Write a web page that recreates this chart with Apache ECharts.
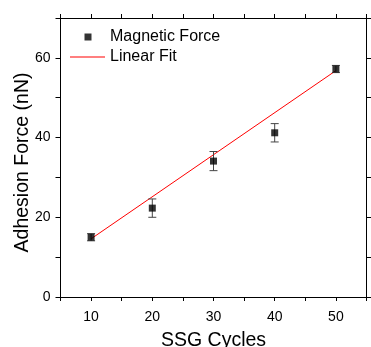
<!DOCTYPE html>
<html>
<head>
<meta charset="utf-8">
<script src="https://cdn.jsdelivr.net/npm/echarts@6/dist/echarts.min.js"></script>
<style>html,body{margin:0;padding:0;background:#fff;}#c{width:371px;height:347px;}</style>
</head>
<body>
<div id="c"></div>
<script>
var cycles = [10, 20, 30, 40, 50];
var force = [15.0, 22.3, 34.1, 41.2, 57.2];
var forceErr = [0.9, 2.3, 2.4, 2.3, 0.9];
var fitX = [10, 50];
var fitY = [14.6, 56.8];
var xTickLabels = [10, 20, 30, 40, 50];
var yTickLabels = [0, 20, 40, 60];

var FONT = '"Liberation Sans", Arial, sans-serif';
var chart = echarts.init(document.getElementById('c'), null, {renderer: 'canvas'});

var scatterData = cycles.map(function (x, i) { return [x, force[i]]; });
var errData = cycles.map(function (x, i) { return [x, force[i] - forceErr[i], force[i] + forceErr[i]]; });
var fitData = fitX.map(function (x, i) { return [x, fitY[i]]; });

var baseAxisX = {
  type: 'value', min: 5, max: 55, interval: 5,
  axisLine: {show: true, onZero: false, lineStyle: {color: '#000', width: 1}},
  axisTick: {show: true, inside: false, length: 4, lineStyle: {color: '#000'}},
  splitLine: {show: false}
};
var baseAxisY = {
  type: 'value', min: 0, max: 70, interval: 10,
  axisLine: {show: true, onZero: false, lineStyle: {color: '#000', width: 1}},
  axisTick: {show: true, inside: false, length: 5, lineStyle: {color: '#000'}},
  splitLine: {show: false}
};

chart.setOption({
  animation: false,
  backgroundColor: '#fff',
  grid: {left: 60.5, right: 4.5, top: 18, bottom: 50, containLabel: false, outerBoundsMode: 'none'},
  legend: {
    orient: 'vertical', left: 65, top: 24, itemGap: 4,
    itemWidth: 35, itemHeight: 7,
    textStyle: {fontFamily: FONT, fontSize: 16, color: '#000', lineHeight: 16},
    data: [
      {name: 'Magnetic Force', icon: 'path://M0,0M35,7M14.5,0h7v7h-7z', itemStyle: {color: '#000'}},
      {name: 'Linear Fit', icon: 'path://M0,0M35,7M0,3h35v1h-35z', itemStyle: {color: '#ff0000'}}
    ]
  },
  xAxis: [
    Object.assign({}, baseAxisX, {
      position: 'bottom',
      name: 'SSG Cycles', nameLocation: 'middle', nameGap: 34, nameMoveOverlap: false,
      nameTextStyle: {fontFamily: FONT, fontSize: 19.5, color: '#000'},
      axisLabel: {
        show: true, margin: 13, fontFamily: FONT, fontSize: 14, color: '#000',
        formatter: function (v) { return xTickLabels.indexOf(v) >= 0 ? String(v) : ''; }
      }
    }),
    Object.assign({}, baseAxisX, {position: 'top', axisLabel: {show: false}})
  ],
  yAxis: [
    Object.assign({}, baseAxisY, {
      position: 'left',
      name: 'Adhesion Force (nN)', nameLocation: 'middle', nameGap: 28, nameMoveOverlap: false,
      nameTextStyle: {fontFamily: FONT, fontSize: 19.5, color: '#000', padding: [0, 10, 0, 0]},
      axisLabel: {
        show: true, margin: 10, fontFamily: FONT, fontSize: 14, color: '#000',
        formatter: function (v) { return yTickLabels.indexOf(v) >= 0 ? String(v) : ''; }
      }
    }),
    Object.assign({}, baseAxisY, {position: 'right', axisLabel: {show: false}})
  ],
  series: [
    {
      name: 'Linear Fit', type: 'line', data: fitData, xAxisIndex: 0, yAxisIndex: 0,
      showSymbol: false, symbol: 'none',
      lineStyle: {color: '#ff0000', width: 1}, itemStyle: {color: '#ff0000'}, z: 3
    },
    {
      name: 'Error', type: 'custom', data: errData, xAxisIndex: 0, yAxisIndex: 0, z: 4,
      renderItem: function (params, api) {
        var x = api.value(0);
        var lo = api.coord([x, api.value(1)]);
        var hi = api.coord([x, api.value(2)]);
        var hw = 4;
        var st = {stroke: '#444', lineWidth: 1, fill: null};
        return {
          type: 'group',
          children: [
            {type: 'line', shape: {x1: lo[0], y1: lo[1], x2: hi[0], y2: hi[1]}, style: st},
            {type: 'line', shape: {x1: lo[0] - hw, y1: lo[1], x2: lo[0] + hw, y2: lo[1]}, style: st},
            {type: 'line', shape: {x1: hi[0] - hw, y1: hi[1], x2: hi[0] + hw, y2: hi[1]}, style: st}
          ]
        };
      }
    },
    {
      name: 'Magnetic Force', type: 'scatter', data: scatterData, xAxisIndex: 0, yAxisIndex: 0,
      symbol: 'rect', symbolSize: 7, itemStyle: {color: '#000'}, z: 5
    }
  ]
});
</script>
</body>
</html>
